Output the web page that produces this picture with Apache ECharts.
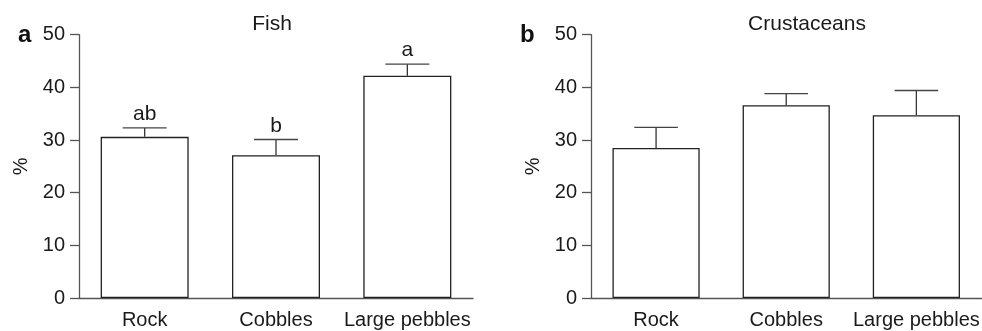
<!DOCTYPE html>
<html><head><meta charset="utf-8">
<script src="https://cdn.jsdelivr.net/npm/echarts@6/dist/echarts.min.js"></script>
<style>html,body{margin:0;padding:0;background:#fff}#c{width:982px;height:331px}</style>
</head><body><div id="c"></div>
<script>
var categories = ['Rock', 'Cobbles', 'Large pebbles'];
var fishMean = [30.6, 27.1, 42.2];
var fishErr = [32.3, 30.1, 44.4];
var fishLetters = ['ab', 'b', 'a'];
var crustMean = [28.5, 36.6, 34.7];
var crustErr = [32.4, 38.8, 39.4];
var crustLetters = ['', '', ''];
var yTicks = [0, 10, 20, 30, 40, 50];
var panelTitles = ['Fish', 'Crustaceans'];
var panelLabels = ['a', 'b'];

var FONT = 'Liberation Sans, Arial, sans-serif';
var AX = '#555';
var chart = echarts.init(document.getElementById('c'), null, {renderer: 'canvas'});

function xAx(i) {
  return {
    gridIndex: i, type: 'category', data: categories,
    axisLine: {lineStyle: {color: AX, width: 1.3}},
    axisTick: {alignWithLabel: true, length: 6, lineStyle: {color: AX, width: 1.3}},
    axisLabel: {color: '#1a1a1a', fontSize: 20, fontFamily: FONT, margin: 12, interval: 0}
  };
}
function yAx(i) {
  return {
    gridIndex: i, type: 'value', min: yTicks[0], max: yTicks[yTicks.length - 1], interval: 10,
    name: '%', nameLocation: 'middle', nameGap: 48, nameRotate: 90,
    nameTextStyle: {color: '#1a1a1a', fontSize: 20, fontFamily: FONT},
    axisLine: {show: true, lineStyle: {color: AX, width: 1.3}},
    axisTick: {show: true, length: 9, lineStyle: {color: AX, width: 1.3}},
    splitLine: {show: false},
    axisLabel: {color: '#1a1a1a', fontSize: 20, fontFamily: FONT, margin: 14}
  };
}
function errSeries(i, err, mean, letters) {
  return {
    type: 'custom', xAxisIndex: i, yAxisIndex: i, z: 5,
    data: categories.map(function (c, k) { return [k, mean[k], err[k]]; }),
    renderItem: function (params, api) {
      var k = api.value(0);
      var base = api.coord([k, api.value(1)]);
      var top = api.coord([k, api.value(2)]);
      var bw = api.size([1, 0])[0] * 0.67;
      var half = bw / 4;
      var children = [
        {type: 'line', shape: {x1: base[0], y1: base[1], x2: top[0], y2: top[1]}, style: {stroke: '#333', lineWidth: 1.3}},
        {type: 'line', shape: {x1: top[0] - half, y1: top[1], x2: top[0] + half, y2: top[1]}, style: {stroke: '#444', lineWidth: 1.3}}
      ];
      var lab = letters[k];
      if (lab) {
        children.push({type: 'text', x: top[0], y: top[1] - 3,
          style: {text: lab, fill: '#1a1a1a', fontSize: 21, fontFamily: FONT, align: 'center', verticalAlign: 'bottom'}});
      }
      return {type: 'group', children: children};
    }
  };
}
function barSeries(i, mean) {
  return {
    type: 'bar', xAxisIndex: i, yAxisIndex: i, data: mean, barWidth: '67%',
    itemStyle: {color: '#fff', borderColor: '#222', borderWidth: 1.3},
    emphasis: {disabled: true}
  };
}

chart.setOption({
  animation: false,
  backgroundColor: '#fff',
  title: [
    {text: panelTitles[0], left: 272, top: 14, padding: 0, textAlign: 'center', textStyle: {fontSize: 21, fontWeight: 'normal', color: '#1a1a1a', fontFamily: FONT}},
    {text: panelTitles[1], left: 807, top: 14, padding: 0, textAlign: 'center', textStyle: {fontSize: 21, fontWeight: 'normal', color: '#1a1a1a', fontFamily: FONT}},
    {text: panelLabels[0], left: 18, top: 23, padding: 0, textStyle: {fontSize: 24, fontWeight: 'bold', color: '#111', fontFamily: FONT}},
    {text: panelLabels[1], left: 520, top: 23, padding: 0, textStyle: {fontSize: 24, fontWeight: 'bold', color: '#111', fontFamily: FONT}}
  ],
  grid: [
    {left: 79, top: 34.7, width: 394, height: 263.3},
    {left: 591, top: 34.7, width: 395, height: 263.3}
  ],
  xAxis: [xAx(0), xAx(1)],
  yAxis: [yAx(0), yAx(1)],
  series: [
    barSeries(0, fishMean), errSeries(0, fishErr, fishMean, fishLetters),
    barSeries(1, crustMean), errSeries(1, crustErr, crustMean, crustLetters)
  ]
});
</script></body></html>
